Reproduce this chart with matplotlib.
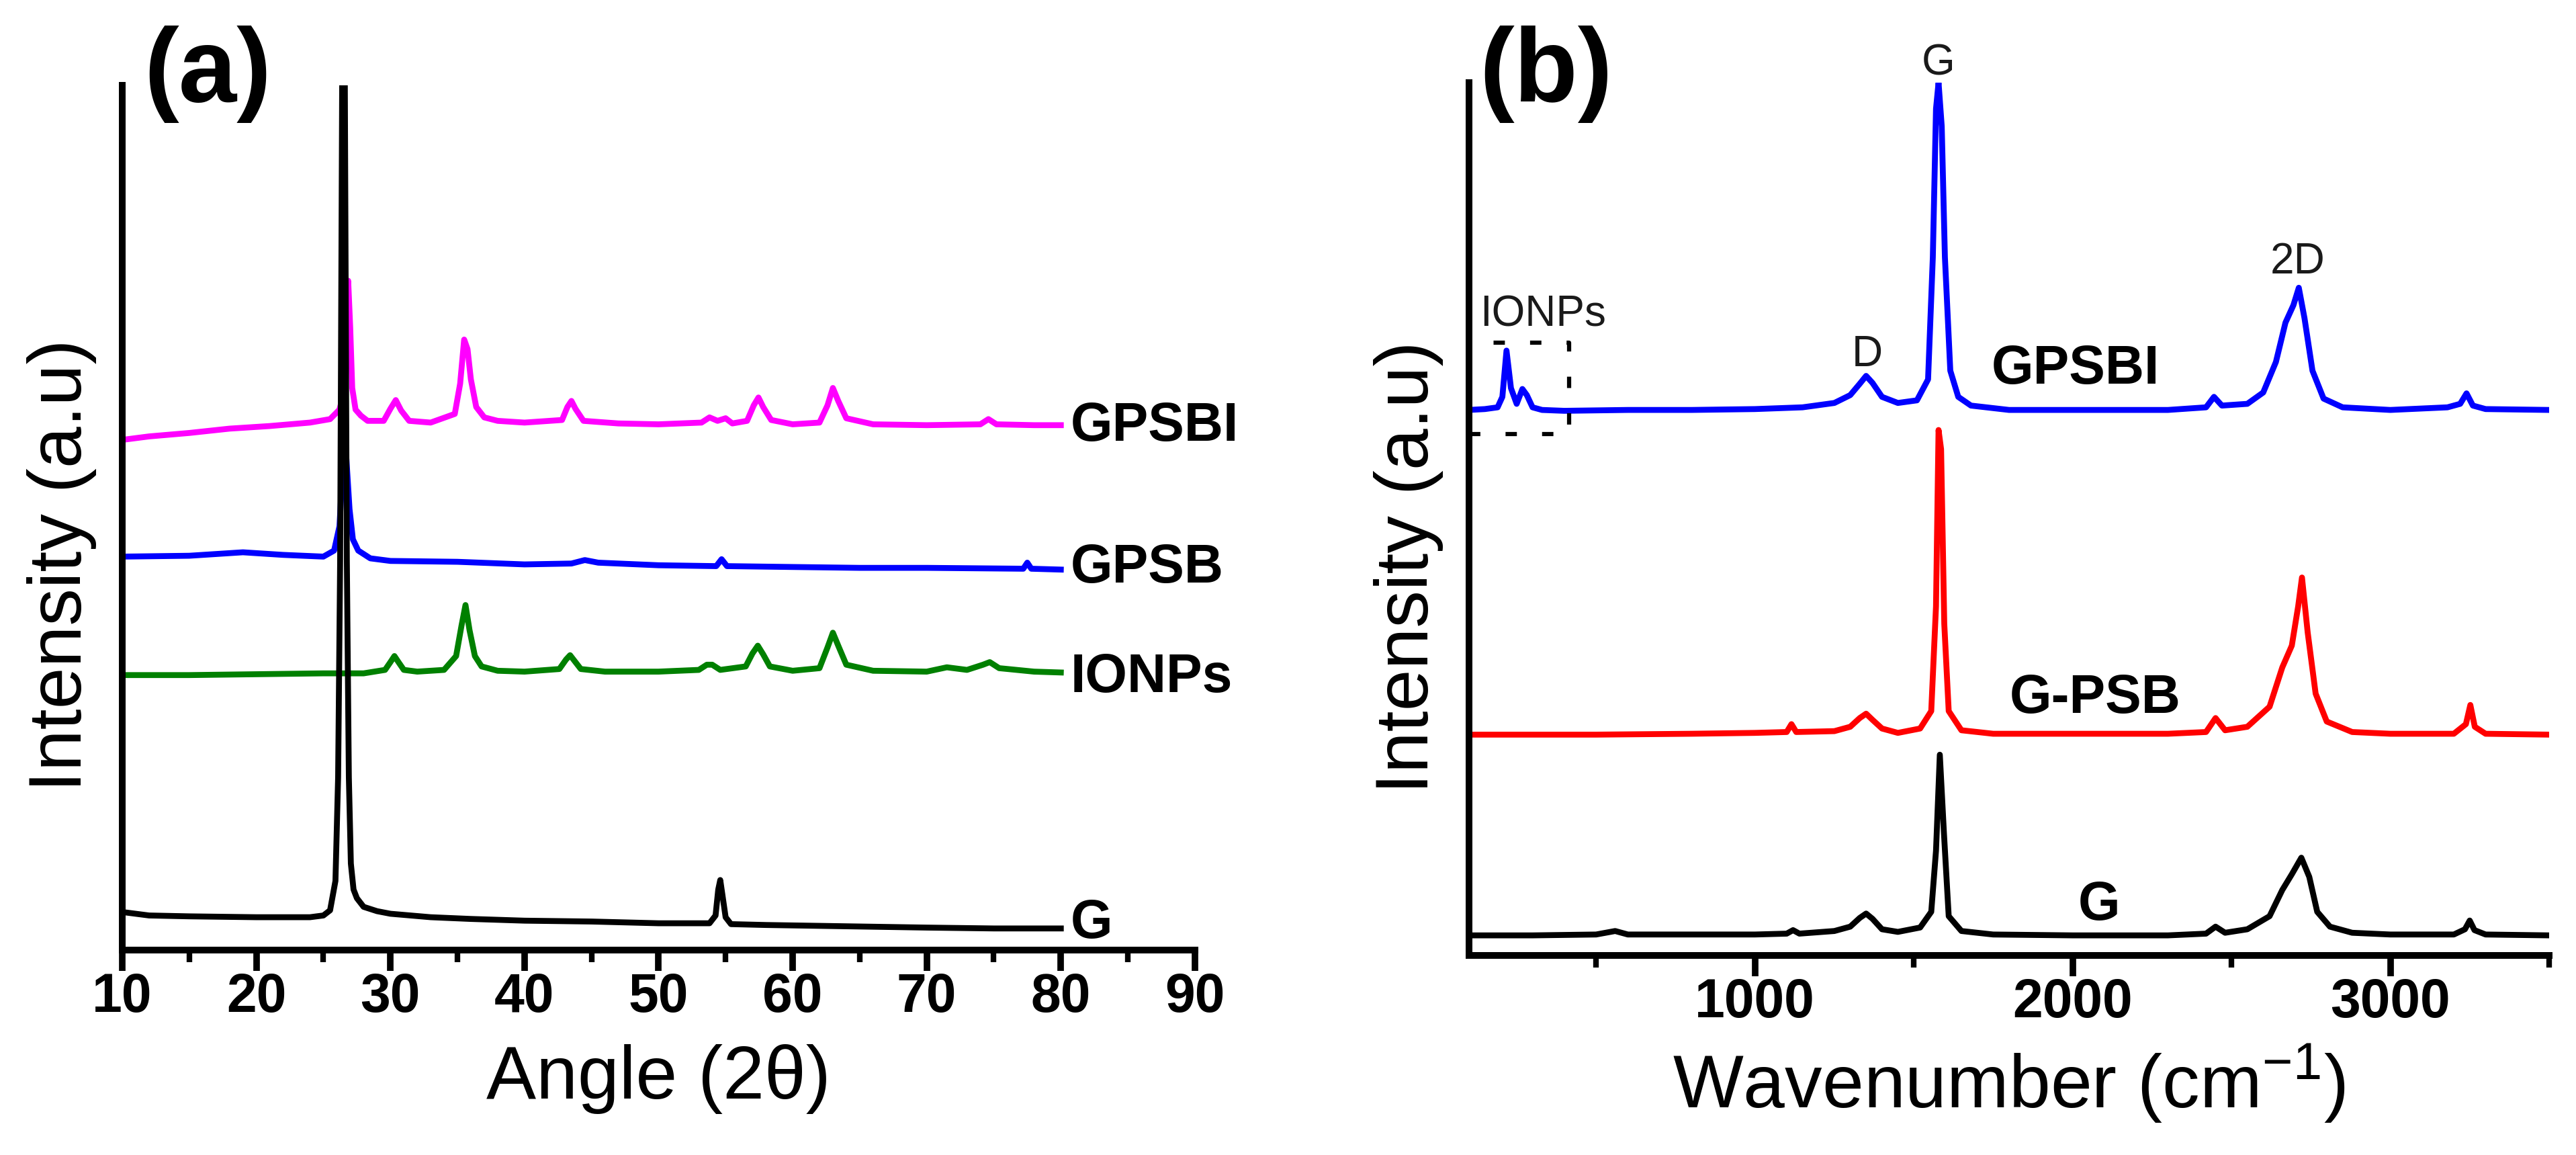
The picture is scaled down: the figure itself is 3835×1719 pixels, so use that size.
import matplotlib
matplotlib.use("Agg")
import matplotlib.pyplot as plt
from matplotlib.ticker import MultipleLocator

plt.rcParams['font.family'] = ['Liberation Sans', 'DejaVu Sans']
plt.rcParams['mathtext.fontset'] = 'custom'
plt.rcParams['mathtext.rm'] = 'Liberation Sans'
plt.rcParams['mathtext.it'] = 'Liberation Sans'

# ---------------- (a) XRD data ----------------
xrd_G_x = [10, 12, 15, 20, 24, 25, 25.5, 25.9, 26.1, 26.25, 26.4, 26.6, 26.75, 26.9, 27.05, 27.25, 27.5, 28, 29, 30, 33, 36, 40, 45, 50, 53.8,
           54.25, 54.45, 54.6, 54.75, 55.0, 55.4, 58, 62, 66, 70, 75, 80]
xrd_G_y = [4.4, 4.0, 3.9, 3.8, 3.8, 4.0, 4.6, 8, 20, 45, 100, 100, 45, 20, 10, 7, 6, 5.0, 4.5, 4.2, 3.8, 3.6, 3.4, 3.3, 3.1, 3.1,
           4.0, 7.0, 8.1, 6.5, 3.8, 3.0, 2.9, 2.8, 2.7, 2.6, 2.5, 2.5]

xrd_IONP_x = [10, 15, 20, 25, 28, 29.6, 30.0, 30.3, 30.6, 31.0, 32, 34, 34.9, 35.3, 35.6, 35.9, 36.3, 36.8, 38, 40, 42.6, 43.1, 43.4,
              43.7, 44.2, 46, 50, 53.0, 53.6, 54.0, 54.6, 56.5, 57.0, 57.4, 57.8, 58.3, 60, 62.0, 62.6, 63.0, 63.4, 64.0, 66, 70,
              71.5, 73, 74.2, 74.7, 75.4, 78, 80]
xrd_IONP_y = [31.8, 31.8, 31.9, 32.0, 32.0, 32.4, 33.3, 34.0, 33.3, 32.4, 32.2, 32.4, 34.0, 37.5, 39.9, 37.0, 34.0, 32.8, 32.3, 32.2,
              32.5, 33.6, 34.1, 33.5, 32.5, 32.2, 32.2, 32.4, 33.0, 33.0, 32.4, 32.8, 34.3, 35.2, 34.2, 32.8, 32.3, 32.6, 35.0,
              36.7, 35.2, 33.0, 32.3, 32.2, 32.7, 32.4, 33.0, 33.3, 32.6, 32.2, 32.1]

xrd_GPSB_x = [10, 15, 19, 22, 25, 25.8, 26.2, 26.45, 26.7, 26.95, 27.2, 27.6, 28.5, 30, 35, 40, 43.5, 44.5, 45.5, 50, 54.3, 54.7,
              55.1, 60, 65, 70, 77.2, 77.5, 77.8, 80]
xrd_GPSB_y = [45.5, 45.6, 46.0, 45.7, 45.5, 46.2, 49, 56, 57.2, 51, 47.5, 46.2, 45.3, 45.0, 44.9, 44.6, 44.7, 45.1, 44.8, 44.5,
              44.4, 45.2, 44.4, 44.3, 44.2, 44.2, 44.1, 44.8, 44.1, 44.0]

xrd_GPSBI_x = [10, 12, 15, 18, 21, 24, 25.5, 26.2, 26.45, 26.65, 26.85, 27.0, 27.15, 27.4, 27.8, 28.3, 29.5, 30.0, 30.4, 30.8,
               31.4, 33, 34.8, 35.2, 35.5, 35.75, 36.0, 36.4, 37.0, 38, 40, 42.8, 43.2, 43.5, 43.8, 44.4, 47, 50, 53.2, 53.8,
               54.4, 55.0, 55.5, 56.6, 57.1, 57.45, 57.8, 58.4, 60, 62.0, 62.6, 63.0, 63.4, 64.0, 66, 70, 74, 74.6, 75.2, 78, 80]
xrd_GPSBI_y = [59.0, 59.4, 59.8, 60.3, 60.6, 61.0, 61.4, 62.5, 64, 70, 77.4, 72, 65, 62.5, 61.8, 61.2, 61.2, 62.6, 63.6, 62.4,
               61.2, 61.0, 62.0, 65.5, 70.6, 69.5, 66, 62.8, 61.6, 61.2, 61.0, 61.3, 62.8, 63.5, 62.6, 61.2, 60.9, 60.8, 61.0,
               61.6, 61.2, 61.5, 60.9, 61.2, 63.0, 63.9, 62.8, 61.3, 60.8, 61.0, 63.0, 65.0, 63.5, 61.5, 60.8, 60.7, 60.8, 61.4,
               60.8, 60.7, 60.7]

xrd_labels = ['GPSBI', 'GPSB', 'IONPs', 'G']
xrd_label_y = [58.9, 42.5, 29.8, 1.4]

# ---------------- (b) Raman data ----------------
ram_G_x = [100, 300, 500, 560, 600, 800, 1000, 1100, 1120, 1140, 1250, 1300, 1330, 1350, 1370, 1400, 1450, 1520, 1555, 1570,
           1582, 1595, 1610, 1650, 1750, 2000, 2300, 2420, 2450, 2480, 2550, 2620, 2660, 2690, 2720, 2745, 2770, 2810, 2880,
           3000, 3200, 3235, 3250, 3265, 3300, 3500]
ram_G_y = [2.3, 2.3, 2.4, 2.8, 2.4, 2.4, 2.4, 2.5, 2.9, 2.5, 2.8, 3.3, 4.3, 4.8, 4.2, 3.0, 2.7, 3.2, 5, 12, 23, 14, 4.5, 2.8,
           2.4, 2.3, 2.3, 2.5, 3.3, 2.6, 3.0, 4.5, 7.5, 9.3, 11.2, 9, 5, 3.3, 2.6, 2.4, 2.4, 3.0, 4.0, 2.9, 2.4, 2.3]

ram_GPSB_x = [100, 500, 800, 1000, 1100, 1115, 1130, 1250, 1300, 1330, 1350, 1370, 1400, 1450, 1520, 1555, 1570, 1578, 1586,
              1596, 1610, 1650, 1750, 2000, 2300, 2420, 2450, 2480, 2550, 2620, 2660, 2690, 2710, 2722, 2740, 2765, 2800,
              2880, 3000, 3200, 3238, 3252, 3266, 3300, 3500]
ram_GPSB_y = [25.3, 25.3, 25.4, 25.5, 25.6, 26.5, 25.6, 25.7, 26.2, 27.2, 27.7, 27.0, 26.0, 25.5, 26.0, 28, 40, 60.2, 58, 38,
              28, 25.8, 25.4, 25.4, 25.4, 25.6, 27.2, 25.8, 26.2, 28.5, 33, 35.5, 40, 43.3, 37, 30, 26.8, 25.6, 25.4, 25.4,
              26.5, 28.7, 26.2, 25.4, 25.3]

ram_GPSBI_x = [100, 150, 190, 205, 218, 232, 250, 268, 282, 300, 330, 400, 600, 800, 1000, 1150, 1250, 1300, 1330, 1350, 1370,
               1400, 1450, 1510, 1545, 1560, 1570, 1578, 1588, 1598, 1615, 1640, 1680, 1800, 2000, 2300, 2420, 2445, 2470,
               2550, 2600, 2640, 2670, 2695, 2712, 2730, 2755, 2790, 2850, 3000, 3180, 3220, 3240, 3260, 3300, 3500]
ram_GPSBI_y = [62.5, 62.6, 62.8, 64, 69.3, 65, 63.2, 64.9, 64.2, 62.8, 62.5, 62.4, 62.5, 62.5, 62.6, 62.8, 63.3, 64.2, 65.5,
               66.4, 65.6, 64.0, 63.3, 63.6, 66, 80, 97, 100, 95, 80, 67, 64, 63, 62.5, 62.5, 62.5, 62.8, 64.0, 63.0, 63.2,
               64.5, 68, 72.5, 74.5, 76.5, 73, 67, 63.8, 62.8, 62.5, 62.8, 63.2, 64.4, 63.0, 62.6, 62.5]

box_x = [100, 415]
box_y = [59.7, 70.2]

ram_labels = ['GPSBI', 'G-PSB', 'G']
ram_label_x = [2009, 2070, 2083]
ram_label_y = [65.5, 27.8, 4.1]

peak_labels = ['IONPs', 'D', 'G', '2D']
peak_x = [135, 1353, 1577, 2708]
peak_y = [72.1, 67.5, 100.9, 78.1]

# ---------------- figure ----------------
fig = plt.figure(figsize=(38.35, 17.19), dpi=100)
ax1 = fig.add_axes([0.04746, 0.17743, 0.4164, 0.74869])
ax2 = fig.add_axes([0.57027, 0.17277, 0.4193, 0.75568])

LW = 6.3
TICK_FS = 58
for ax in (ax1, ax2):
    for s in ('top', 'right'):
        ax.spines[s].set_visible(False)
    for s in ('left', 'bottom'):
        ax.spines[s].set_linewidth(7.2)
    ax.set_yticks([])
    ax.tick_params(axis='x', which='major', direction='out', length=22, width=7, labelsize=TICK_FS, pad=2)
    ax.tick_params(axis='x', which='minor', direction='out', length=13, width=6)
    ax.set_ylim(0, 100)
    ax.set_ylabel('Intensity (a.u)', fontsize=80, labelpad=24)
    ax.yaxis.set_label_coords(-0.024 if ax is ax1 else -0.0235, 0.445)

# (a)
ax1.plot(xrd_GPSBI_x, xrd_GPSBI_y, color='#ff00ff', lw=LW)
ax1.plot(xrd_GPSB_x, xrd_GPSB_y, color='#0000ff', lw=LW)
ax1.plot(xrd_IONP_x, xrd_IONP_y, color='#008000', lw=LW)
ax1.plot(xrd_G_x, xrd_G_y, color='black', lw=LW)
ax1.set_xlim(10, 90)
ax1.xaxis.set_major_locator(MultipleLocator(10))
ax1.xaxis.set_minor_locator(MultipleLocator(5))
ax1.set_xlabel('Angle (2θ)', fontsize=80, labelpad=22)
for lab, y in zip(xrd_labels, xrd_label_y):
    ax1.text(80.7, y, lab, ha='left', va='baseline', fontsize=58, fontweight='bold', clip_on=False)

# (b)
ax2.plot(ram_GPSBI_x, ram_GPSBI_y, color='#0000ff', lw=LW)
ax2.plot(ram_GPSB_x, ram_GPSB_y, color='#ff0000', lw=LW)
ax2.plot(ram_G_x, ram_G_y, color='black', lw=LW)
ax2.plot([box_x[0], box_x[1], box_x[1], box_x[0], box_x[0]],
         [box_y[0], box_y[0], box_y[1], box_y[1], box_y[0]],
         color='black', lw=4.5, linestyle=(0, (2.7, 6)), clip_on=False)
ax2.set_xlim(100, 3500)
ax2.xaxis.set_major_locator(MultipleLocator(1000))
ax2.xaxis.set_minor_locator(MultipleLocator(500))
ax2.set_xlabel(r'Wavenumber (cm$^{\mathregular{-1}}$)', fontsize=80, labelpad=15)
for lab, x, y in zip(ram_labels, ram_label_x, ram_label_y):
    ax2.text(x, y, lab, ha='center', va='baseline', fontsize=58, fontweight='bold')
for i, (lab, x, y) in enumerate(zip(peak_labels, peak_x, peak_y)):
    ax2.text(x, y, lab, ha='left' if i == 0 else 'center', va='baseline', fontsize=46,
             color='#1a1a1a', clip_on=False)

for ax in (ax1, ax2):
    for t in ax.get_xticklabels():
        t.set_fontweight('bold')

fig.text(0.0558, 1 - 151 / 1719, '(a)', fontsize=112, fontweight='bold', ha='left', va='baseline')
fig.text(0.5742, 1 - 151 / 1719, '(b)', fontsize=112, fontweight='bold', ha='left', va='baseline')

fig.savefig('out.png', dpi=100)
